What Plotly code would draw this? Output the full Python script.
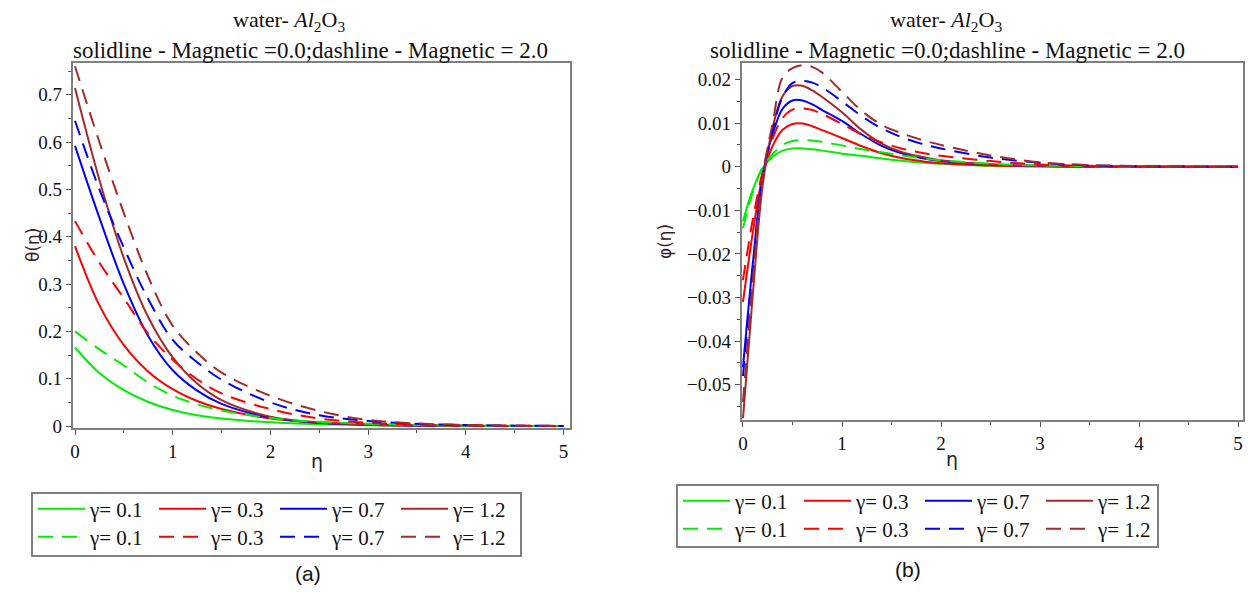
import plotly.graph_objects as go

# ---------------- data ----------------
gammas = ["0.1", "0.3", "0.7", "1.2"]
colors = ["#00ee00", "#ff0000", "#0000ff", "#a52a2a"]

theta_eta = [0, 0.25, 0.5, 0.75, 1, 1.25, 1.5, 2, 2.5, 3, 3.5, 4, 4.5, 5]
theta_m0_g01 = [0.166, 0.112, 0.076, 0.051, 0.034, 0.023, 0.016, 0.008, 0.004, 0.002, 0.001, 0.0005, 0.0002, 0.0001]
theta_m0_g03 = [0.380, 0.255, 0.171, 0.115, 0.078, 0.053, 0.036, 0.016, 0.007, 0.003, 0.0015, 0.0007, 0.0003, 0.0001]
theta_m0_g07 = [0.592, 0.440, 0.300, 0.190, 0.118, 0.075, 0.047, 0.018, 0.007, 0.003, 0.0013, 0.0005, 0.0002, 0.0001]
theta_m0_g12 = [0.714, 0.520, 0.355, 0.230, 0.145, 0.090, 0.055, 0.020, 0.008, 0.003, 0.0012, 0.0005, 0.0002, 0.0001]
theta_m2_g01 = [0.200, 0.162, 0.128, 0.092, 0.064, 0.046, 0.033, 0.017, 0.009, 0.005, 0.0025, 0.0012, 0.0006, 0.0003]
theta_m2_g03 = [0.433, 0.345, 0.270, 0.195, 0.140, 0.099, 0.069, 0.036, 0.016, 0.007, 0.003, 0.0015, 0.0007, 0.0003]
theta_m2_g07 = [0.645, 0.500, 0.377, 0.268, 0.182, 0.135, 0.098, 0.050, 0.023, 0.011, 0.005, 0.0022, 0.001, 0.0004]
theta_m2_g12 = [0.760, 0.600, 0.450, 0.315, 0.212, 0.155, 0.113, 0.064, 0.032, 0.013, 0.0055, 0.0025, 0.001, 0.0005]

phi_eta = [0, 0.1, 0.2, 0.3, 0.4, 0.5, 0.6, 0.7, 0.8, 1.0, 1.2, 1.4, 1.6, 1.8, 2.0, 2.5, 3.0, 3.5, 4.0, 4.5, 5.0]
phi_m0_g01 = [-0.0125, -0.0052, -0.0003, 0.0023, 0.0037, 0.0042, 0.0042, 0.0040, 0.0037, 0.0030, 0.0025, 0.0019, 0.0014, 0.0010, 0.0007, 0.0002, 0.00007, 0.00002, 0, 0, 0]
phi_m0_g03 = [-0.031, -0.015, -0.002, 0.0048, 0.0085, 0.0098, 0.0099, 0.0093, 0.0084, 0.0066, 0.0047, 0.0031, 0.0020, 0.0013, 0.0008, 0.0003, 0.0001, 0.00003, 0, 0, 0]
phi_m0_g07 = [-0.046, -0.022, -0.002, 0.0075, 0.0133, 0.0152, 0.0152, 0.0143, 0.0130, 0.0105, 0.0074, 0.0048, 0.0031, 0.0020, 0.0013, 0.0005, 0.00015, 0.00005, 0, 0, 0]
phi_m0_g12 = [-0.0577, -0.029, -0.004, 0.009, 0.0162, 0.0185, 0.0186, 0.0175, 0.0160, 0.0125, 0.0084, 0.0053, 0.0034, 0.0023, 0.0015, 0.0005, 0.0002, 0.00006, 0, 0, 0]
phi_m2_g01 = [-0.0141, -0.0058, 0.0000, 0.0029, 0.0050, 0.0059, 0.0061, 0.0060, 0.0057, 0.0049, 0.0040, 0.0033, 0.0026, 0.0020, 0.0015, 0.0007, 0.0003, 0.0001, 0.00004, 0, 0]
phi_m2_g03 = [-0.026, -0.012, -0.001, 0.0065, 0.0112, 0.0131, 0.0134, 0.0130, 0.0121, 0.0098, 0.0074, 0.0056, 0.0042, 0.0032, 0.0025, 0.0013, 0.0005, 0.0002, 0.00007, 0, 0]
phi_m2_g07 = [-0.048, -0.023, -0.002, 0.0085, 0.0160, 0.0192, 0.0197, 0.0193, 0.0182, 0.0150, 0.0116, 0.0088, 0.0068, 0.0053, 0.0042, 0.0021, 0.0009, 0.0003, 0.0001, 0.00003, 0]
phi_m2_g12 = [-0.054, -0.026, -0.002, 0.0100, 0.0205, 0.0226, 0.0233, 0.0229, 0.0216, 0.0172, 0.0128, 0.0096, 0.0077, 0.0062, 0.0050, 0.0026, 0.0010, 0.0004, 0.00015, 0.00005, 0]

theta_m0 = [theta_m0_g01, theta_m0_g03, theta_m0_g07, theta_m0_g12]
theta_m2 = [theta_m2_g01, theta_m2_g03, theta_m2_g07, theta_m2_g12]
phi_m0 = [phi_m0_g01, phi_m0_g03, phi_m0_g07, phi_m0_g12]
phi_m2 = [phi_m2_g01, phi_m2_g03, phi_m2_g07, phi_m2_g12]

# ---------------- figure ----------------
W, H = 1248, 603
def px(x):
    return x / W
def py(y):
    return 1 - y / H

DASH = "15px,9px"
SERIF = "Liberation Serif"
fig = go.Figure()

def add_set(xs, ys_list, xa, ya, dash, legend):
    for g, c, ys in zip(gammas, colors, ys_list):
        fig.add_trace(go.Scatter(
            x=xs, y=ys, mode="lines", name="\u03b3= " + g,
            line=dict(color=c, width=2, dash=dash, shape="spline", smoothing=1.0),
            xaxis=xa, yaxis=ya, legend=legend, showlegend=True))

add_set(theta_eta, theta_m0, "x", "y", "solid", "legend")
add_set(theta_eta, theta_m2, "x", "y", DASH, "legend2")
add_set(phi_eta, phi_m0, "x2", "y2", "solid", "legend3")
add_set(phi_eta, phi_m2, "x2", "y2", DASH, "legend4")

axis_common = dict(
    showline=True, mirror=True, linecolor="#808080", linewidth=2, automargin=False,
    showgrid=False, zeroline=False, ticks="outside", ticklen=5, tickwidth=1,
    tickcolor="#555555", tickfont=dict(family=SERIF, size=19, color="#111111"),
)
minor_common = dict(ticklen=3, ticks="outside", tickcolor="#555555")

fig.update_layout(
    width=W, height=H,
    margin=dict(l=0, r=0, t=0, b=0),
    paper_bgcolor="white", plot_bgcolor="white",
    xaxis=dict(domain=[px(72.7), px(570)], range=[-0.0235, 5.066], anchor="y",
               dtick=1, minor=dict(dtick=0.5, **minor_common), **axis_common),
    yaxis=dict(domain=[py(428), py(63)], range=[-0.004, 0.767], anchor="x",
               dtick=0.1, minor=dict(dtick=0.05, **minor_common), **axis_common),
    xaxis2=dict(domain=[px(741.7), px(1243)], range=[-0.013, 5.05], anchor="y2",
                dtick=1, minor=dict(dtick=0.5, **minor_common), **axis_common),
    yaxis2=dict(domain=[py(420), py(63)], range=[-0.0581, 0.0238], anchor="x2",
                dtick=0.01, minor=dict(dtick=0.005, **minor_common), **axis_common),
)

legend_common = dict(orientation="h", bgcolor="rgba(0,0,0,0)", borderwidth=0,
                     font=dict(family=SERIF, size=21, color="#111111"),
                     entrywidth=59, entrywidthmode="pixels", tracegroupgap=0,
                     xanchor="left", yanchor="middle", itemwidth=47)
fig.update_layout(
    legend=dict(x=px(33), y=py(509), **legend_common),
    legend2=dict(x=px(33), y=py(537), **legend_common),
    legend3=dict(x=px(678), y=py(501), **legend_common),
    legend4=dict(x=px(678), y=py(529), **legend_common),
)

# legend frames
for (x0, y0, x1, y1) in [(32, 493, 521, 556), (677, 485, 1158, 547)]:
    fig.add_shape(type="rect", xref="paper", yref="paper",
                  x0=px(x0), x1=px(x1), y0=py(y1), y1=py(y0),
                  line=dict(color="#808080", width=2), fillcolor="rgba(0,0,0,0)")

title1 = "water- <i>Al</i><sub>2</sub>O<sub>3</sub>"
title2 = "solidline - Magnetic =0.0;dashline - Magnetic = 2.0"
ann = []
for c1, c2 in ((289, 310), (946, 947)):
    ann.append(dict(text=title1, x=px(c1), y=py(21), showarrow=False, xref="paper", yref="paper",
                    xanchor="center", yanchor="middle", font=dict(family=SERIF, size=22, color="#111111")))
    ann.append(dict(text=title2, x=px(c2), y=py(51), showarrow=False, xref="paper", yref="paper",
                    xanchor="center", yanchor="middle", font=dict(family=SERIF, size=23, color="#111111")))
ann += [
    dict(text="\u03b7", x=px(309), y=py(474), showarrow=False, xref="paper", yref="paper",
         font=dict(family="DejaVu Sans", size=19, color="#222222")),
    dict(text="\u03b7", x=px(960), y=py(472), showarrow=False, xref="paper", yref="paper",
         font=dict(family="DejaVu Sans", size=19, color="#222222")),
    dict(text="\u03b8(\u03b7)", x=px(21), y=py(245), showarrow=False, xref="paper", yref="paper",
         textangle=-90, font=dict(family="DejaVu Sans", size=17, color="#3a2020")),
    dict(text="\u03c6(\u03b7)", x=px(665), y=py(242), showarrow=False, xref="paper", yref="paper",
         textangle=-90, font=dict(family="DejaVu Sans", size=17, color="#3a2020")),
    dict(text="(a)", x=px(293), y=py(587), showarrow=False, xref="paper", yref="paper",
         font=dict(family="Liberation Sans", size=21, color="#111111")),
    dict(text="(b)", x=px(923), y=py(583), showarrow=False, xref="paper", yref="paper",
         font=dict(family="Liberation Sans", size=21, color="#111111")),
]
fig.update_layout(annotations=ann)

fig.write_html("out.html", config={"displayModeBar": False},
               post_script="document.body.style.margin='0';document.body.style.padding='0';")
